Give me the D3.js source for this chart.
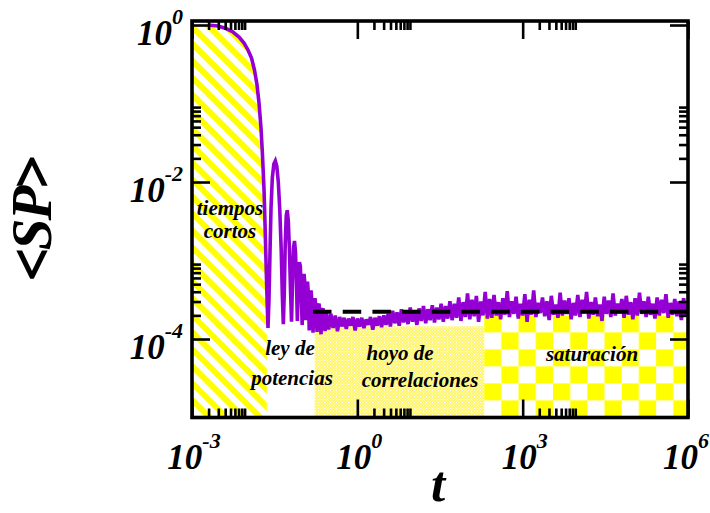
<!DOCTYPE html>
<html><head><meta charset="utf-8">
<script src="https://cdn.jsdelivr.net/npm/d3@7"></script>
<style>body{margin:0;background:#fff} text{font-family:"Liberation Serif","Times New Roman",Times,serif;}</style>
</head><body><svg id="c" width="710" height="513"></svg>
<script>
// ---------- DATA (log10 t, log10 <SP>) ----------
const spEarly = [
[-2.673,-0.004],[-2.528,-0.013],[-2.383,-0.045],[-2.256,-0.089],[-2.147,-0.153],[-2.056,-0.229],
[-1.984,-0.318],[-1.920,-0.420],[-1.866,-0.573],[-1.820,-0.764],[-1.784,-0.994],[-1.748,-1.312],
[-1.721,-1.656],[-1.693,-2.102],[-1.672,-2.611],[-1.653,-3.121],[-1.635,-3.567],[-1.621,-3.86],
[-1.603,-3.50],[-1.584,-2.87],[-1.566,-2.33],[-1.543,-1.95],[-1.515,-1.77],[-1.488,-1.73],
[-1.461,-1.80],[-1.434,-2.00],[-1.407,-2.36],[-1.381,-2.87],[-1.361,-3.44],[-1.343,-3.81],
[-1.325,-3.40],[-1.309,-2.80],[-1.290,-2.43],[-1.272,-2.36],[-1.252,-2.50],[-1.232,-2.87],
[-1.212,-3.38],[-1.194,-3.78],[-1.176,-3.27],[-1.158,-2.84],[-1.140,-2.75],[-1.122,-2.89],
[-1.105,-3.27],[-1.088,-3.77],[-1.070,-3.25],[-1.052,-3.02],[-1.034,-3.07],[-1.016,-3.48],
[-1.001,-3.82],[-0.985,-3.32],[-0.967,-3.17],[-0.949,-3.32],[-0.935,-3.76],[-0.918,-3.38],
[-0.904,-3.27],[-0.888,-3.43],[-0.873,-3.89],[-0.858,-3.45],[-0.840,-3.38],[-0.822,-3.54],
[-0.804,-3.92],[-0.786,-3.53],[-0.768,-3.48],[-0.750,-3.63],[-0.731,-3.91],[-0.713,-3.58],
[-0.695,-3.55],[-0.677,-3.71],[-0.659,-3.94],[-0.641,-3.63],[-0.622,-3.61],[-0.604,-3.76],
[-0.586,-3.90]
];
const spTail = [
[-0.56,-3.66],[-0.52,-3.88],[-0.48,-3.68],[-0.44,-3.86],[-0.40,-3.70],[-0.36,-3.90],[-0.32,-3.72],
[-0.28,-3.84],[-0.24,-3.73],[-0.20,-3.87],[-0.16,-3.74],[-0.12,-3.83],[-0.08,-3.72],[-0.04,-3.89],
[0.00,-3.74],[0.04,-3.84],[0.08,-3.73],[0.12,-3.86],[0.16,-3.75],[0.20,-3.82],[0.24,-3.72],
[0.28,-3.88],[0.32,-3.73],[0.36,-3.83],[0.40,-3.71],[0.44,-3.85],[0.48,-3.70],[0.52,-3.82],
[0.56,-3.68],[0.60,-3.84],
[0.64,-3.64],[0.68,-3.80],[0.72,-3.66],[0.76,-3.83],[0.80,-3.62],[0.84,-3.79],[0.88,-3.65],
[0.92,-3.81],[0.96,-3.60],[1.00,-3.78],[1.04,-3.64],[1.08,-3.82],[1.12,-3.61],[1.16,-3.77],
[1.20,-3.58],[1.24,-3.80],[1.28,-3.62],[1.32,-3.76],[1.36,-3.57],[1.40,-3.79],[1.44,-3.60],
[1.48,-3.75],[1.52,-3.55],[1.56,-3.78],[1.60,-3.58],[1.64,-3.74],[1.68,-3.52],
[1.72,-3.76],[1.76,-3.55],[1.80,-3.73],[1.84,-3.47],[1.88,-3.77],[1.92,-3.53],[1.96,-3.72],
[2.00,-3.42],[2.04,-3.75],[2.08,-3.50],[2.12,-3.71],[2.16,-3.45],[2.20,-3.78],[2.24,-3.52],
[2.28,-3.70],[2.32,-3.40],[2.36,-3.74],[2.40,-3.49],
[2.44,-3.73],[2.48,-3.44],[2.52,-3.70],[2.56,-3.53],[2.60,-3.75],[2.64,-3.48],[2.68,-3.69],
[2.72,-3.39],[2.76,-3.72],[2.80,-3.52],[2.84,-3.68],[2.88,-3.46],[2.92,-3.74],[2.96,-3.55],
[3.00,-3.70],[3.04,-3.43],[3.08,-3.78],[3.12,-3.50],[3.16,-3.69],[3.20,-3.38],[3.24,-3.72],
[3.28,-3.54],[3.32,-3.67],[3.36,-3.47],[3.40,-3.71],[3.44,-3.52],[3.48,-3.76],[3.52,-3.45],
[3.56,-3.69],[3.60,-3.56],[3.64,-3.73],[3.68,-3.41],[3.72,-3.70],[3.76,-3.51],[3.80,-3.68],
[3.84,-3.48],[3.88,-3.75],[3.92,-3.54],[3.96,-3.70],[4.00,-3.44],[4.04,-3.72],[4.08,-3.50],
[4.12,-3.67],[4.16,-3.40],[4.20,-3.74],[4.24,-3.53],[4.28,-3.69],[4.32,-3.47],[4.36,-3.71],
[4.40,-3.56],[4.44,-3.77],[4.48,-3.46],[4.52,-3.68],[4.56,-3.51],[4.60,-3.72],[4.64,-3.42],
[4.68,-3.70],[4.72,-3.55],[4.76,-3.67],[4.80,-3.49],[4.84,-3.73],[4.88,-3.45],[4.92,-3.69],
[4.96,-3.53],[5.00,-3.75],[5.04,-3.48],[5.08,-3.70],[5.12,-3.41],[5.16,-3.68],[5.20,-3.52],
[5.24,-3.72],[5.28,-3.46],[5.32,-3.69],[5.36,-3.55],[5.40,-3.74],[5.44,-3.47],[5.48,-3.70],
[5.52,-3.50],[5.56,-3.67],[5.60,-3.43],[5.64,-3.73],[5.68,-3.54],[5.72,-3.69],[5.76,-3.49],
[5.80,-3.71],[5.84,-3.52],[5.88,-3.76],[5.92,-3.48],[5.96,-3.70],[6.00,-3.55]
];
const xMajorTicks = [1e-3, 1, 1e3, 1e6];
const xTickLabels = [["10","-3"],["10","0"],["10","3"],["10","6"]];
const yMajorTicks = [1, 1e-2, 1e-4];
const yTickLabels = [["10","0"],["10","-2"],["10","-4"]];
const regionBounds = [1e-3, 0.0228, 0.168, 200, 1e6];   // t limits of the 4 regimes
const regionLabels = [["tiempos","cortos"],["ley de","potencias"],["hoyo de","correlaciones"],["saturación"]];
const hoyoTop = 1.45e-4;
const saturTop = 2.0e-4;
const plateau = 2.23e-4;
const plateauStart = 0.157;

// ---------- LAYOUT ----------
const L = 192, R = 688, T = 21, B = 417.5;
const svg = d3.select("#c");
const x = d3.scaleLog().domain([1e-3, 1e6]).range([L, R]);
const y = d3.scaleLog().domain([1e-5, 1.125]).range([B, T]);
const PURPLE = "#9400D3", YEL = "#ffff00";

const defs = svg.append("defs");
// diagonal stripes
const ps = defs.append("pattern").attr("id","stripes").attr("patternUnits","userSpaceOnUse")
  .attr("width",12).attr("height",12).attr("patternTransform","rotate(45)");
ps.append("rect").attr("width",12).attr("height",12).attr("fill","#fff");
ps.append("rect").attr("width",12).attr("height",6).attr("fill",YEL);
// fine dither (pale yellow)
const pd = defs.append("pattern").attr("id","dither").attr("patternUnits","userSpaceOnUse")
  .attr("width",3).attr("height",3);
pd.append("rect").attr("width",3).attr("height",3).attr("fill","#fff670");
pd.append("rect").attr("width",1).attr("height",1).attr("fill","#ffffff");
pd.append("rect").attr("x",1.5).attr("y",1.5).attr("width",1).attr("height",1).attr("fill","#fffde0");
// checkerboard
const cw = 17.2, ch = 17;
const pc = defs.append("pattern").attr("id","checker").attr("patternUnits","userSpaceOnUse")
  .attr("x", x(regionBounds[3])).attr("y", y(saturTop)).attr("width",2*cw).attr("height",2*ch);
pc.append("rect").attr("width",2*cw).attr("height",2*ch).attr("fill","#fff");
pc.append("rect").attr("width",cw).attr("height",ch).attr("fill",YEL);
pc.append("rect").attr("x",cw).attr("y",ch).attr("width",cw).attr("height",ch).attr("fill",YEL);

defs.append("clipPath").attr("id","plot").append("rect")
  .attr("x",L).attr("y",T).attr("width",R-L).attr("height",B-T);
defs.append("clipPath").attr("id","short").append("rect")
  .attr("x",L).attr("y",T).attr("width",x(regionBounds[1])-L).attr("height",B-T);

const P = d => [x(Math.pow(10,d[0])), y(Math.pow(10,d[1]))];

// regions
const g = svg.append("g").attr("clip-path","url(#plot)");
const areaData = [[-3,0]].concat(spEarly.slice(0,18));
g.append("path").attr("clip-path","url(#short)")
  .attr("d", d3.area().x(d=>P(d)[0]).y0(B).y1(d=>P(d)[1])(areaData))
  .attr("fill","url(#stripes)");
g.append("rect").attr("x",x(regionBounds[2])).attr("y",y(hoyoTop))
  .attr("width",x(regionBounds[3])-x(regionBounds[2])).attr("height",B-y(hoyoTop))
  .attr("fill","url(#dither)");
g.append("rect").attr("x",x(regionBounds[3])).attr("y",y(saturTop))
  .attr("width",x(regionBounds[4])-x(regionBounds[3])).attr("height",B-y(saturTop))
  .attr("fill","url(#checker)");

// curve
const line = d3.line().x(d=>P(d)[0]).y(d=>P(d)[1]);
g.append("path").attr("d", line(spEarly.concat(spTail)))
  .attr("fill","none").attr("stroke",PURPLE).attr("stroke-width",3.6).attr("stroke-linejoin","miter").attr("stroke-miterlimit",3);

// plateau dashed line
g.append("line").attr("x1",x(plateauStart)).attr("x2",x(1e6)).attr("y1",y(plateau)).attr("y2",y(plateau))
  .attr("stroke","#000").attr("stroke-width",4).attr("stroke-dasharray","18.5,11.2");

// region labels
const labelLayout = [[[230,215],[230,238]],[[290,355],[292,385]],[[400,360],[420,387]],[[592,361]]];
regionLabels.forEach((lines,i)=>lines.forEach((s,j)=>{
  svg.append("text").attr("x",labelLayout[i][j][0]).attr("y",labelLayout[i][j][1])
    .attr("text-anchor","middle").attr("font-size",21)
    .attr("font-weight","bold").attr("font-style","italic").text(s);
}));

// ticks
const minorOf = majors => majors.flatMap(m => [2,3,4,5,6,7,8,9].map(k=>k*m));
const xMinor = minorOf(xMajorTicks).filter(v=>v<=1e6);
const yMinor = minorOf(yMajorTicks).filter(v=>v<=1 && v>=1e-5);
function ax(gen, tr, vals, size){
  const a = svg.append("g").attr("transform",tr)
    .call(gen.tickValues(vals).tickSize(-size).tickFormat(""));
  a.select(".domain").remove();
  a.selectAll("line").attr("stroke","#000").attr("stroke-width",2.6);
}
[[xMajorTicks,18],[xMinor,9]].forEach(([v,s])=>{
  ax(d3.axisBottom(x), `translate(0,${B})`, v, s);
  ax(d3.axisTop(x), `translate(0,${T})`, v, s);
});
[[yMajorTicks,18],[yMinor,9]].forEach(([v,s])=>{
  ax(d3.axisLeft(y), `translate(${L},0)`, v, s);
  ax(d3.axisRight(y), `translate(${R},0)`, v, s);
});
// frame
svg.append("rect").attr("x",L).attr("y",T).attr("width",R-L).attr("height",B-T)
  .attr("fill","none").attr("stroke","#000").attr("stroke-width",3.6);

// tick labels
function lab(xx,yy,anchor,parts){
  const t = svg.append("text").attr("x",xx).attr("y",yy).attr("text-anchor",anchor)
    .attr("font-weight","bold").attr("font-style","italic").attr("font-size",35);
  t.append("tspan").text(parts[0]);
  t.append("tspan").attr("dy",-21).attr("font-size",22).text(parts[1]);
}
xMajorTicks.forEach((v,i)=>lab(Math.min(x(v)+2, 686), 469, "middle", xTickLabels[i]));
yMajorTicks.forEach((v,i)=>lab(183, y(v)+20, "end", yTickLabels[i]));

// axis titles
svg.append("text").attr("x",438).attr("y",501).attr("text-anchor","middle")
  .attr("font-weight","bold").attr("font-style","italic").attr("font-size",51).text("t");
const yt = svg.append("text").attr("transform","translate(51,219) rotate(-90)").attr("text-anchor","middle")
  .attr("font-weight","bold").attr("font-size",57).attr("letter-spacing",-2);
yt.append("tspan").attr("stroke","#000").attr("stroke-width",1.6).text("<");
yt.append("tspan").attr("font-style","italic").text("SP");
yt.append("tspan").attr("stroke","#000").attr("stroke-width",1.6).text(">");
</script></body></html>
